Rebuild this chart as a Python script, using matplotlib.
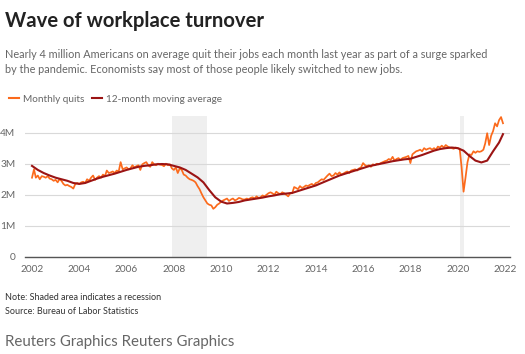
import matplotlib
matplotlib.use("Agg")
import matplotlib.pyplot as plt
import numpy as np
import pandas as pd
from matplotlib.lines import Line2D

# ---------------- data (millions) ----------------
years = list(range(2002, 2022))
quits_by_year = {
    2002: [2.55, 2.82, 2.55, 2.62, 2.50, 2.60, 2.58, 2.55, 2.60, 2.52, 2.50, 2.45],
    2003: [2.48, 2.40, 2.50, 2.45, 2.35, 2.30, 2.32, 2.28, 2.25, 2.20, 2.35, 2.38],
    2004: [2.35, 2.40, 2.42, 2.38, 2.50, 2.45, 2.55, 2.62, 2.48, 2.55, 2.60, 2.55],
    2005: [2.65, 2.60, 2.78, 2.70, 2.72, 2.75, 2.70, 2.78, 2.75, 3.05, 2.82, 2.85],
    2006: [2.88, 2.82, 2.85, 2.95, 2.88, 2.92, 2.95, 2.80, 2.98, 3.02, 3.05, 2.95],
    2007: [2.90, 3.05, 2.98, 2.95, 3.00, 2.97, 2.96, 2.92, 3.00, 2.95, 2.98, 2.85],
    2008: [2.80, 2.88, 2.70, 2.85, 2.80, 2.65, 2.62, 2.55, 2.50, 2.48, 2.45, 2.40],
    2009: [2.28, 2.18, 2.05, 1.92, 1.82, 1.72, 1.68, 1.66, 1.55, 1.60, 1.68, 1.72],
    2010: [1.78, 1.82, 1.85, 1.88, 1.80, 1.85, 1.88, 1.82, 1.85, 1.90, 1.88, 1.85],
    2011: [1.85, 1.88, 1.85, 1.90, 1.92, 1.88, 1.95, 1.90, 1.92, 1.98, 1.95, 2.00],
    2012: [2.05, 2.08, 2.05, 2.00, 2.10, 2.05, 2.02, 2.08, 2.05, 2.00, 1.95, 2.05],
    2013: [2.05, 2.25, 2.22, 2.18, 2.28, 2.22, 2.25, 2.30, 2.28, 2.32, 2.35, 2.30],
    2014: [2.38, 2.40, 2.45, 2.50, 2.48, 2.55, 2.62, 2.68, 2.60, 2.62, 2.70, 2.65],
    2015: [2.72, 2.65, 2.68, 2.72, 2.75, 2.70, 2.78, 2.80, 2.82, 2.78, 2.85, 2.88],
    2016: [3.02, 2.95, 2.92, 2.95, 2.90, 2.98, 2.95, 3.00, 2.98, 3.02, 3.05, 3.08],
    2017: [3.10, 3.15, 3.12, 3.22, 3.10, 3.15, 3.18, 3.12, 3.18, 3.20, 3.22, 3.25],
    2018: [3.02, 3.30, 3.35, 3.40, 3.42, 3.45, 3.40, 3.50, 3.45, 3.48, 3.50, 3.45],
    2019: [3.50, 3.45, 3.55, 3.52, 3.58, 3.52, 3.60, 3.55, 3.52, 3.50, 3.48, 3.52],
    2020: [3.50, 3.48, 2.90, 2.10, 2.55, 3.05, 3.30, 3.28, 3.40, 3.35, 3.40, 3.38],
    2021: [3.40, 3.45, 3.65, 3.98, 3.60, 3.90, 4.05, 4.30, 4.20, 4.40, 4.50, 4.30],
}

# 12-month moving average, read quarterly (Jan, Apr, Jul, Oct) + final Dec 2021
ma_by_year = {
    2002: [2.93, 2.80, 2.70, 2.62],
    2003: [2.55, 2.50, 2.45, 2.38],
    2004: [2.35, 2.38, 2.45, 2.52],
    2005: [2.58, 2.63, 2.68, 2.74],
    2006: [2.80, 2.85, 2.90, 2.93],
    2007: [2.95, 2.98, 2.99, 2.98],
    2008: [2.93, 2.88, 2.80, 2.68],
    2009: [2.56, 2.40, 2.15, 1.92],
    2010: [1.78, 1.72, 1.74, 1.77],
    2011: [1.82, 1.85, 1.88, 1.91],
    2012: [1.95, 1.98, 2.02, 2.04],
    2013: [2.06, 2.12, 2.18, 2.24],
    2014: [2.30, 2.38, 2.46, 2.54],
    2015: [2.62, 2.68, 2.74, 2.80],
    2016: [2.86, 2.92, 2.96, 3.00],
    2017: [3.04, 3.08, 3.11, 3.14],
    2018: [3.16, 3.22, 3.28, 3.35],
    2019: [3.42, 3.47, 3.50, 3.52],
    2020: [3.50, 3.42, 3.25, 3.10],
    2021: [3.04, 3.10, 3.40, 3.68],
}
ma_last_date = "2021-12-01"
ma_last_value = 3.95

recessions = [("2007-12-01", "2009-06-01"), ("2020-02-01", "2020-04-01")]

ytick_vals = [0, 1, 2, 3, 4]
ytick_labels = ["0", "1M", "2M", "3M", "4M"]
xtick_years = list(range(2002, 2023, 2))

title = "Wave of workplace turnover"
subtitle = ("Nearly 4 million Americans on average quit their jobs each month last year as part of a surge sparked\n"
            "by the pandemic. Economists say most of those people likely switched to new jobs.")
note = "Note: Shaded area indicates a recession"
source = "Source: Bureau of Labor Statistics"
credit = "Reuters Graphics Reuters Graphics"

# ---------------- build series ----------------
q_dates, q_vals = [], []
for y in years:
    for m, v in enumerate(quits_by_year[y], start=1):
        q_dates.append(pd.Timestamp(year=y, month=m, day=1))
        q_vals.append(v)
ma_dates, ma_vals = [], []
for y in years:
    for m, v in zip([1, 4, 7, 10], ma_by_year[y]):
        ma_dates.append(pd.Timestamp(year=y, month=m, day=1))
        ma_vals.append(v)
ma_dates.append(pd.Timestamp(ma_last_date))
ma_vals.append(ma_last_value)

ORANGE = "#fb6a1c"
DARKRED = "#9b1414"
GRAY_TXT = "#666666"

plt.rcParams['font.family'] = ['Lato', 'DejaVu Sans']

W, H = 525, 354
fig = plt.figure(figsize=(W / 100, H / 100), dpi=100)
ax = fig.add_axes([25 / W, 1 - 257 / H, (510 - 25) / W, (257 - 116) / H])

for a, b in recessions:
    ax.axvspan(pd.Timestamp(a), pd.Timestamp(b), color="#efefef", lw=0, zorder=0)

ax.plot(q_dates, q_vals, color=ORANGE, lw=1.25, zorder=3)
ax.plot(ma_dates, ma_vals, color=DARKRED, lw=1.5, zorder=4)

x0 = pd.Timestamp("2002-01-01") - (pd.Timestamp("2022-01-01") - pd.Timestamp("2002-01-01")) * (7 / 473)
x1 = pd.Timestamp("2022-01-01") + (pd.Timestamp("2022-01-01") - pd.Timestamp("2002-01-01")) * (5 / 473)
ax.set_xlim(x0, x1)
ax.set_ylim(0, (257 - 116) / 31.1)

ax.set_yticks(ytick_vals)
ax.set_yticklabels(ytick_labels)
ax.set_xticks([pd.Timestamp(year=y, month=1, day=1) for y in xtick_years])
ax.set_xticklabels([str(y) for y in xtick_years])
ax.tick_params(axis="both", length=0, labelsize=7.3, colors=GRAY_TXT, pad=6)
ax.tick_params(axis="y", pad=7)
ax.grid(axis="y", color="#d9d9d9", lw=0.8)
ax.set_axisbelow(True)
for s in ["top", "right", "left"]:
    ax.spines[s].set_visible(False)
ax.spines["bottom"].set_color("#555555")
ax.spines["bottom"].set_linewidth(1.0)

fig.text(5 / W, 1 - 21 / H, title, fontsize=14.6, fontweight="bold", color="#222222", va="center", ha="left")
fig.text(5 / W, 1 - 62 / H, subtitle, fontsize=7.85, color=GRAY_TXT, va="center", ha="left", linespacing=1.4)

handles = [Line2D([], [], color=ORANGE, lw=1.5), Line2D([], [], color=DARKRED, lw=1.5)]
fig.legend(handles, ["Monthly quits", "12-month moving average"], loc="center left",
           bbox_to_anchor=(0 / W, 1 - 99 / H), ncol=2, frameon=False, fontsize=7.2,
           handlelength=1.0, handletextpad=0.4, columnspacing=0.8, labelcolor=GRAY_TXT)

fig.text(5 / W, 1 - 298 / H, note, fontsize=6.5, color="#333333", va="center", ha="left")
fig.text(5 / W, 1 - 311 / H, source, fontsize=6.5, color="#333333", va="center", ha="left")
fig.text(5 / W, 1 - 342 / H, credit, fontsize=10.8, color=GRAY_TXT, va="center", ha="left")

fig.savefig("out.png", dpi=100)
